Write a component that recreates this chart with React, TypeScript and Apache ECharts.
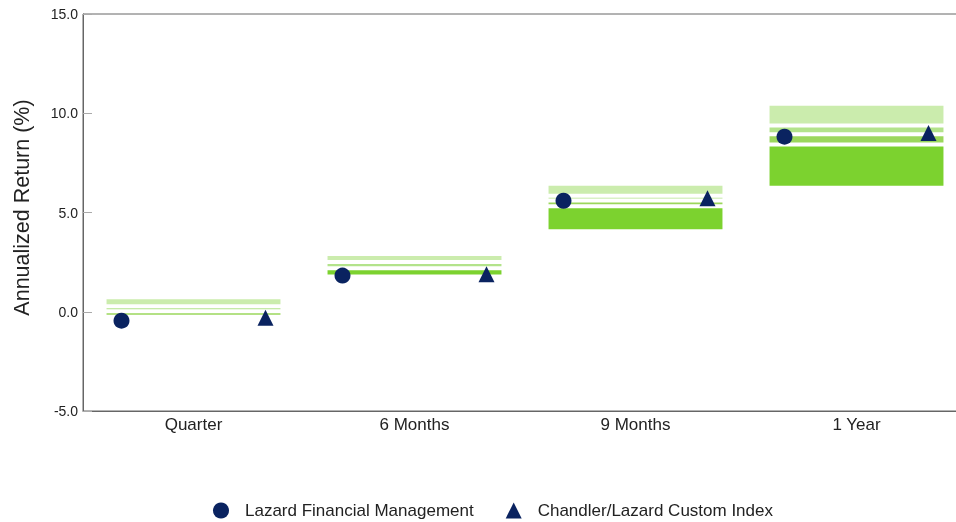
import React, { useEffect, useRef } from "react";
import * as echarts from "echarts";

const categories = ["Quarter", "6 Months", "9 Months", "1 Year"];
const yTicks = [-5, 0, 5, 10, 15];

// Universe percentile boundaries (top to bottom)
const p95 = [0.63, 2.81, 6.35, 10.38];
const p75 = [0.28, 2.51, 5.84, 9.38];
const p50 = [0.02, 2.19, 5.6, 8.94];
const p25 = [-0.25, 2.19, 5.31, 8.42];
const p5 = [-0.25, 1.88, 4.15, 6.35];

const fundValues = [-0.45, 1.82, 5.59, 8.82];
const indexValues = [-0.3, 1.89, 5.72, 9.01];

const bandColors = ["#cbecad", "#b3e38b", "#9bd75c", "#7cd22f"];
const navy = "#0a2360";
const FONT = "'Liberation Sans', Arial, sans-serif";

function bandSeries(top: number[], bottom: number[], color: string, insetTop: boolean, insetBottom: boolean) {
  return {
    type: "custom",
    silent: true,
    encode: { x: 0, y: [1, 2] },
    data: categories.map((_, i) => [i, top[i], bottom[i]]),
    renderItem: (_params: any, api: any) => {
      const idx = api.value(0);
      const hi = api.value(1);
      const lo = api.value(2);
      const pt = api.coord([idx, hi]);
      const pb = api.coord([idx, lo]);
      const w = api.size([1, 0])[0] * 0.787;
      const y0 = pt[1] + (insetTop ? 2 : 0);
      const y1 = pb[1] - (insetBottom ? 2 : 0);
      if (y1 - y0 <= 0.2) return null;
      return {
        type: "rect",
        shape: { x: pt[0] - w / 2, y: y0, width: w, height: y1 - y0 },
        style: { fill: color },
      };
    },
    z: 1,
  };
}

export default function App() {
  const ref = useRef<HTMLDivElement>(null);
  useEffect(() => {
    if (!ref.current) return;
    const chart = echarts.init(ref.current, null, { renderer: "svg" });
    chart.setOption({
      animation: false,
      textStyle: { fontFamily: FONT },
      grid: {
        left: 83,
        top: 14,
        width: 884,
        height: 397,
        outerBoundsMode: "none",
        containLabel: false,
        show: true,
        borderColor: "#666",
        borderWidth: 1,
        backgroundColor: "transparent",
      },
      legend: {
        left: 213,
        top: 502,
        padding: 0,
        itemWidth: 16,
        itemHeight: 16,
        itemGap: 32,
        textStyle: { fontFamily: FONT, fontSize: 17, color: "#222", padding: [0, 0, 0, 11] },
        data: [
          { name: "Lazard Financial Management", icon: "circle", itemStyle: { color: navy, opacity: 1 } },
          { name: "Chandler/Lazard Custom Index", icon: "triangle", itemStyle: { color: navy, opacity: 1 } },
        ],
      },
      xAxis: {
        type: "category",
        data: categories,
        axisLine: { show: true, onZero: false, lineStyle: { color: "#666" } },
        axisTick: { show: false },
        axisLabel: { fontFamily: FONT, fontSize: 17, color: "#222", margin: 5 },
        splitLine: { show: false },
      },
      yAxis: {
        type: "value",
        min: yTicks[0],
        max: yTicks[yTicks.length - 1],
        interval: 5,
        name: "Annualized Return (%)",
        nameLocation: "middle",
        nameRotate: 90,
        nameGap: 50,
        nameTextStyle: { fontFamily: FONT, fontSize: 21.5, color: "#222", padding: [0, 0, 0, 10] },
        axisLine: { show: true, lineStyle: { color: "#666" } },
        axisTick: { show: true, inside: true, length: 9, lineStyle: { color: "#aaa" } },
        axisLabel: {
          fontFamily: FONT,
          fontSize: 14,
          color: "#222",
          margin: 5,
          formatter: (v: number) => v.toFixed(1),
        },
        splitLine: { show: false },
      },
      series: [
        bandSeries(p95, p75, bandColors[0], false, true),
        bandSeries(p75, p50, bandColors[1], true, true),
        bandSeries(p50, p25, bandColors[2], true, true),
        bandSeries(p25, p5, bandColors[3], true, false),
        {
          name: "Lazard Financial Management",
          type: "scatter",
          symbol: "circle",
          symbolSize: 16,
          symbolOffset: [-72, 0],
          itemStyle: { color: navy, opacity: 1 },
          data: fundValues,
          z: 5,
        },
        {
          name: "Chandler/Lazard Custom Index",
          type: "scatter",
          symbol: "triangle",
          symbolSize: 16,
          symbolOffset: [72, 0],
          itemStyle: { color: navy, opacity: 1 },
          data: indexValues,
          z: 5,
        },
      ],
    });
    return () => chart.dispose();
  }, []);
  return (
    <div
      ref={ref}
      style={{ position: "fixed", left: 0, top: 0, width: 956, height: 522 }}
    />
  );
}
